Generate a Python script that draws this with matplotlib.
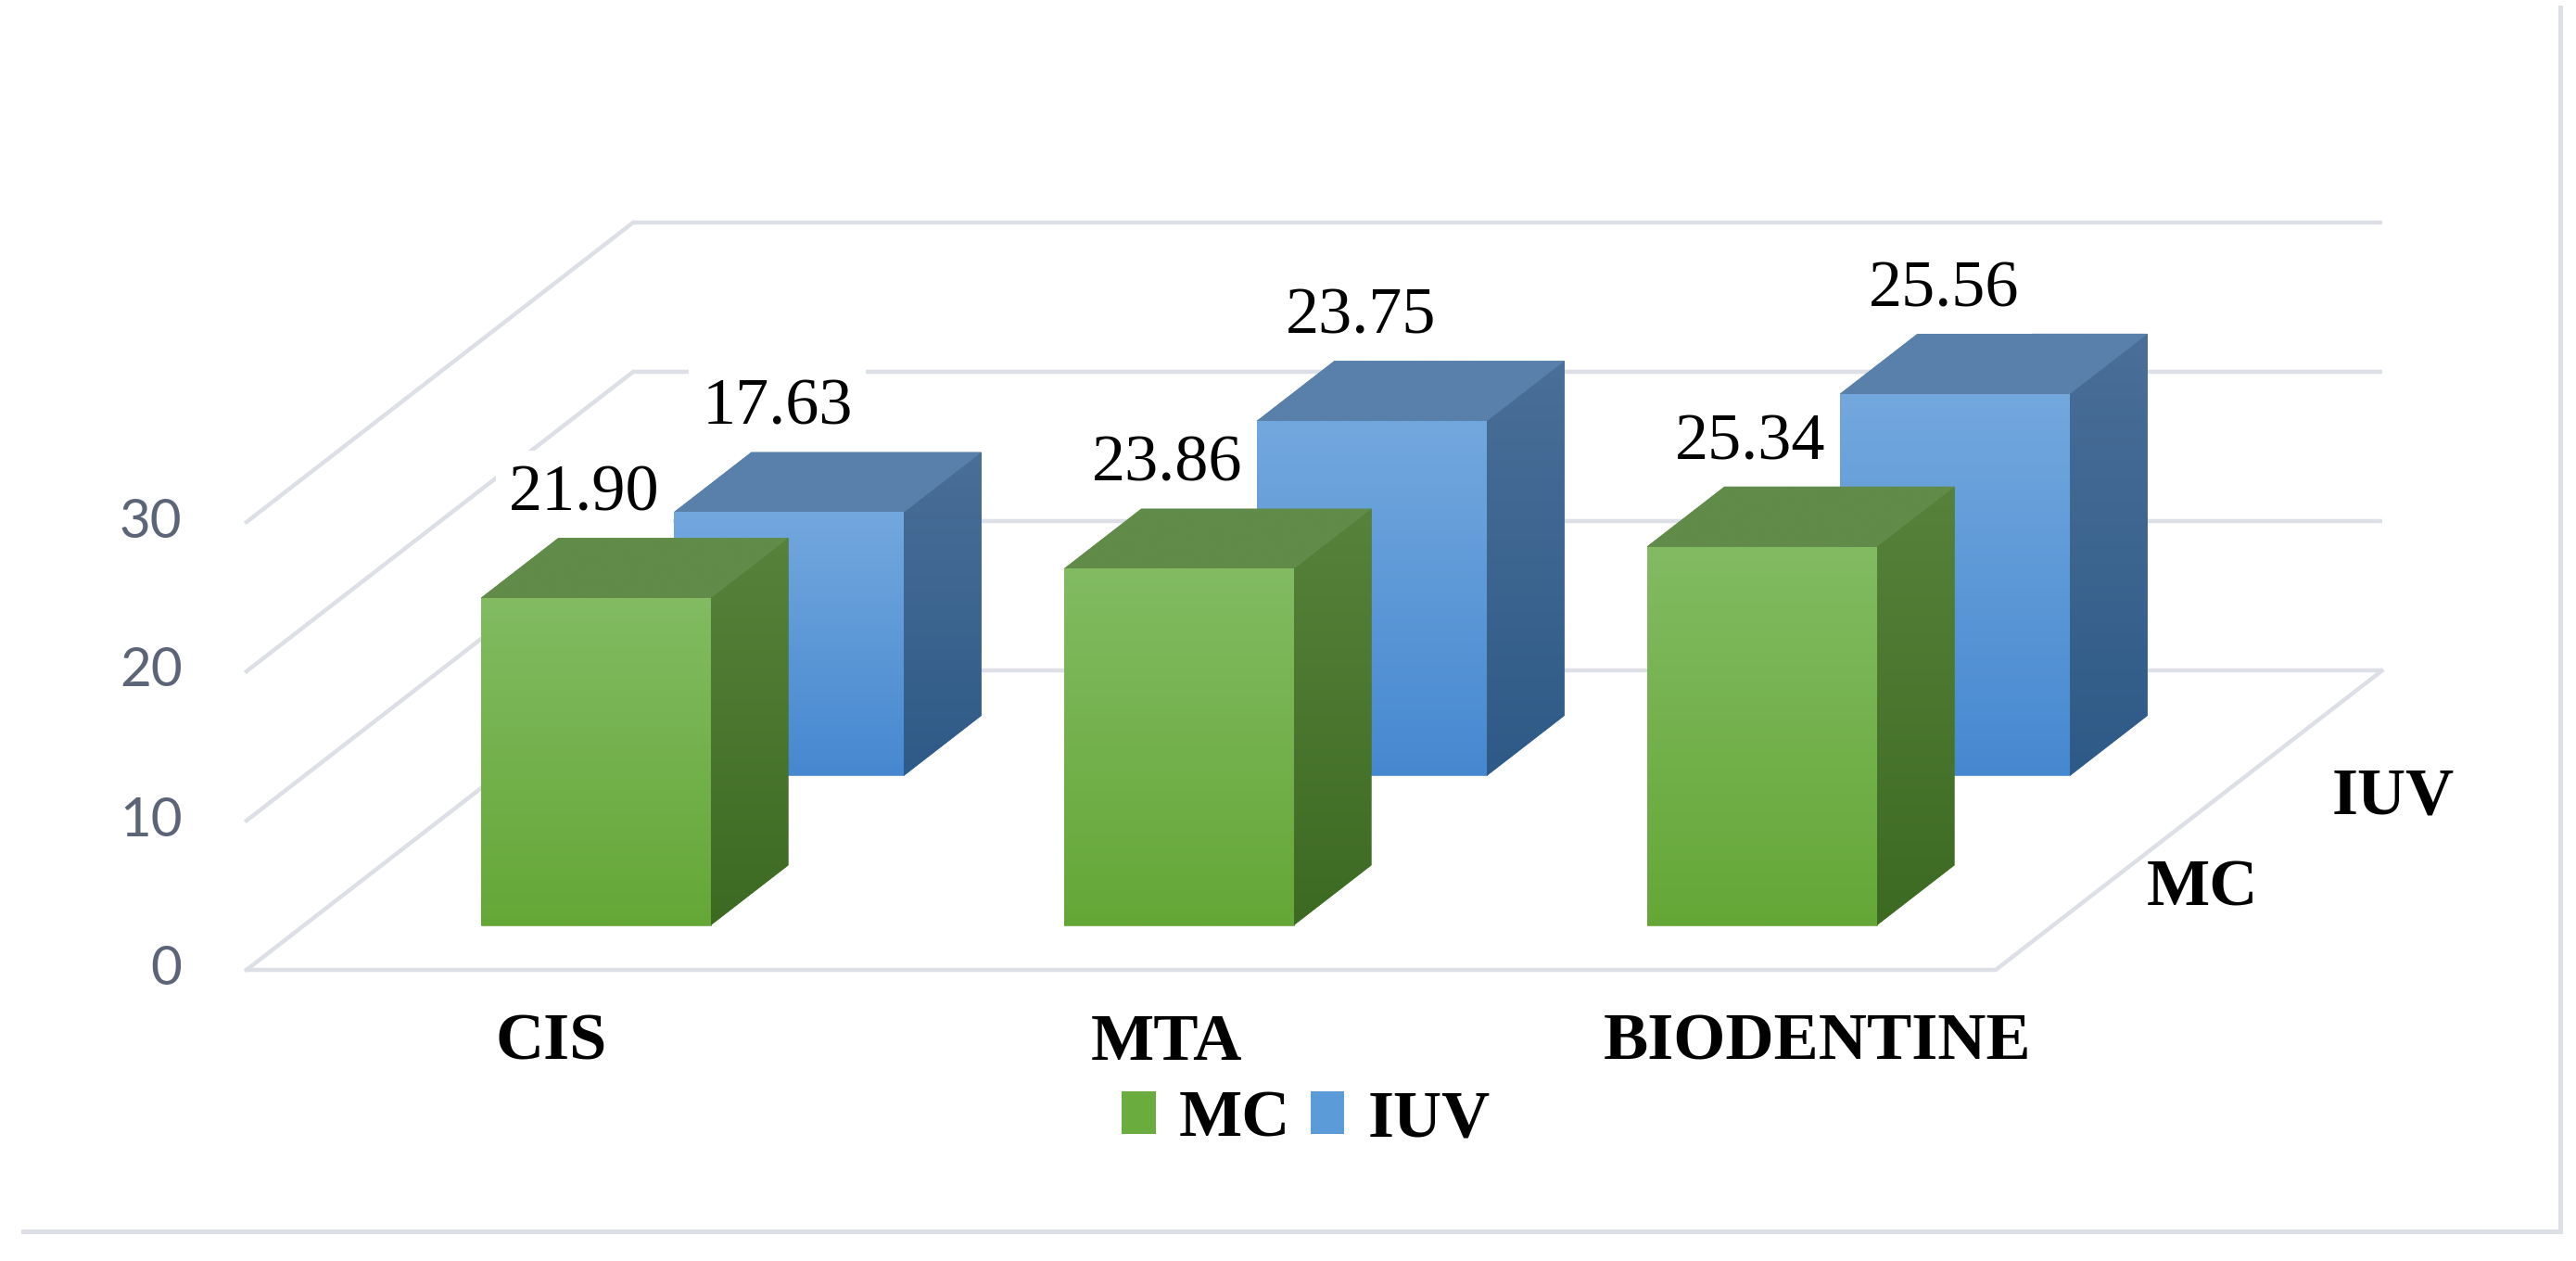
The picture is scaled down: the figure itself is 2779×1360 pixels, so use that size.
import numpy as np
import matplotlib
matplotlib.use('Agg')
import matplotlib.pyplot as plt
from matplotlib.patches import Polygon, Patch
from matplotlib.colors import LinearSegmentedColormap
from matplotlib.lines import Line2D

# data
categories = ['CIS', 'MTA', 'BIODENTINE']
series = ['MC', 'IUV']
mc_values = [21.90, 23.86, 25.34]
iuv_values = [17.63, 23.75, 25.56]
y_ticks = [0, 10, 20, 30]

# oblique projection of the 3D box (category units, value units)
W, H = 2779, 1360
px_cat, px_val = 629.0, 16.1
x0_px, y0_px = 266.0, 1046.0          # front-left floor corner (pixels from top-left)
depth_x, depth_y = 416.5 / px_cat, 322.6 / px_val
bar_w, bar_off = 0.394, 0.303
bar_d = 0.2


def proj(x, v, d):
    return (x + d * depth_x, v + d * depth_y)


def face(ax, pts, c_top, c_bot, z):
    xs = [p[0] for p in pts]
    ys = [p[1] for p in pts]
    cmap = LinearSegmentedColormap.from_list('f', [c_bot, c_top])
    mid = cmap(0.5)
    ax.add_patch(Polygon(pts, closed=True, facecolor=mid, edgecolor=mid, lw=0.6, zorder=z))
    poly = Polygon(pts, closed=True, transform=ax.transData)
    grad = np.linspace(0, 1, 256).reshape(-1, 1)
    im = ax.imshow(grad, extent=[min(xs), max(xs), min(ys), max(ys)], origin='lower',
                   cmap=cmap, aspect='auto', zorder=z + 0.01, interpolation='bilinear')
    im.set_clip_path(poly)


def bar(ax, i, j, v, cols, z):
    x0 = i + bar_off
    x1 = x0 + bar_w
    d0 = 0.15 + 0.5 * j
    d1 = d0 + bar_d
    front = [proj(x0, 0, d0), proj(x1, 0, d0), proj(x1, v, d0), proj(x0, v, d0)]
    side = [proj(x1, 0, d0), proj(x1, 0, d1), proj(x1, v, d1), proj(x1, v, d0)]
    top = [proj(x0, v, d0), proj(x1, v, d0), proj(x1, v, d1), proj(x0, v, d1)]
    face(ax, front, cols['front'][0], cols['front'][1], z)
    face(ax, side, cols['side'][0], cols['side'][1], z)
    face(ax, top, cols['top'], cols['top'], z)
    # label above the top face
    cx = x0 + bar_w / 2
    tx, ty = proj(cx, v, (d0 + d1) / 2)
    ax.annotate('{:.2f}'.format(v), (tx, ty), xytext=(-39, 57.5), textcoords='offset points',
                ha='center', va='center', fontsize=52, family='Liberation Serif',
                color='black', zorder=20,
                bbox=dict(boxstyle='square,pad=0.2', fc='white', ec='none'))


green = {'front': ('#82bb62', '#65a737'), 'side': ('#57823b', '#3d6a22'), 'top': '#618b49'}
blue = {'front': ('#73a8de', '#4688d0'), 'side': ('#4a6f98', '#2e5a87'), 'top': '#5980aa'}

fig = plt.figure(figsize=(W / 100, H / 100), dpi=100)
ax = fig.add_axes([0, 0, 1, 1])
ax.axis('off')

grid_c = '#dcdfe5'
n = len(categories)
# back wall gridlines and left wall lines
for v in y_ticks:
    a = proj(0, v, 1)
    b = proj(n, v, 1)
    ax.plot([a[0], b[0]], [a[1], b[1]], color=grid_c, lw=3.2, zorder=1, solid_capstyle='butt')
    c = proj(0, v, 0)
    ax.plot([c[0], a[0]], [c[1], a[1]], color=grid_c, lw=3.2, zorder=1)
    ax.annotate(str(v), (0, v), xytext=(-50, 0), textcoords='offset points',
                ha='right', va='center', fontsize=42, family='Lato', color='#5b6577')

# floor front and right edges
f0, f1, f2 = proj(0, 0, 0), proj(n, 0, 0), proj(n, 0, 1)
ax.plot([f0[0], f1[0], f2[0]], [f0[1], f1[1], f2[1]], color=grid_c, lw=3.2, zorder=1)

# bars: back row first
for i in range(n):
    bar(ax, i, 1, iuv_values[i], blue, 3)
for i in range(n):
    bar(ax, i, 0, mc_values[i], green, 5)

# category labels
cat_dx = [14, 49, 122]
for i, c in enumerate(categories):
    ax.annotate(c, (i + 0.5, 0), xytext=(cat_dx[i] * 0.72, -57), textcoords='offset points',
                ha='center', va='center', fontsize=52, fontweight='bold',
                family='Liberation Serif', color='black')

# depth axis labels
depth_off = [(119, 6), (116, -56)]
for j, s in enumerate(series):
    p = proj(n, 0, 0.25 + 0.5 * j)
    ax.annotate(s, p, xytext=(depth_off[j][0] * 0.72, depth_off[j][1] * 0.72),
                textcoords='offset points', ha='center', va='center', fontsize=52,
                fontweight='bold', family='Liberation Serif', color='black')

# legend
handles = [Patch(facecolor='#6aac3e'), Patch(facecolor='#5a9bd8')]
fig.legend(handles, series, loc='center', bbox_to_anchor=(0.507, 0.112), ncol=2,
           frameon=False, handlelength=0.5, handleheight=0.6, handletextpad=0.35,
           columnspacing=0.3, prop={'family': 'Liberation Serif', 'weight': 'bold', 'size': 52})

# outer border (right and bottom)
border_c = '#dde1e7'
fig.add_artist(Line2D([2762 / W, 2762 / W], [1 - 8 / H, 1 - 1328 / H], color=border_c, lw=3.6))
fig.add_artist(Line2D([25 / W, 2762 / W], [1 - 1328 / H, 1 - 1328 / H], color=border_c, lw=3.6))

ax.set_xlim(-x0_px / px_cat, (W - x0_px) / px_cat)
ax.set_ylim(-(H - y0_px) / px_val, y0_px / px_val)

fig.savefig('out.png', dpi=100, facecolor='white')
